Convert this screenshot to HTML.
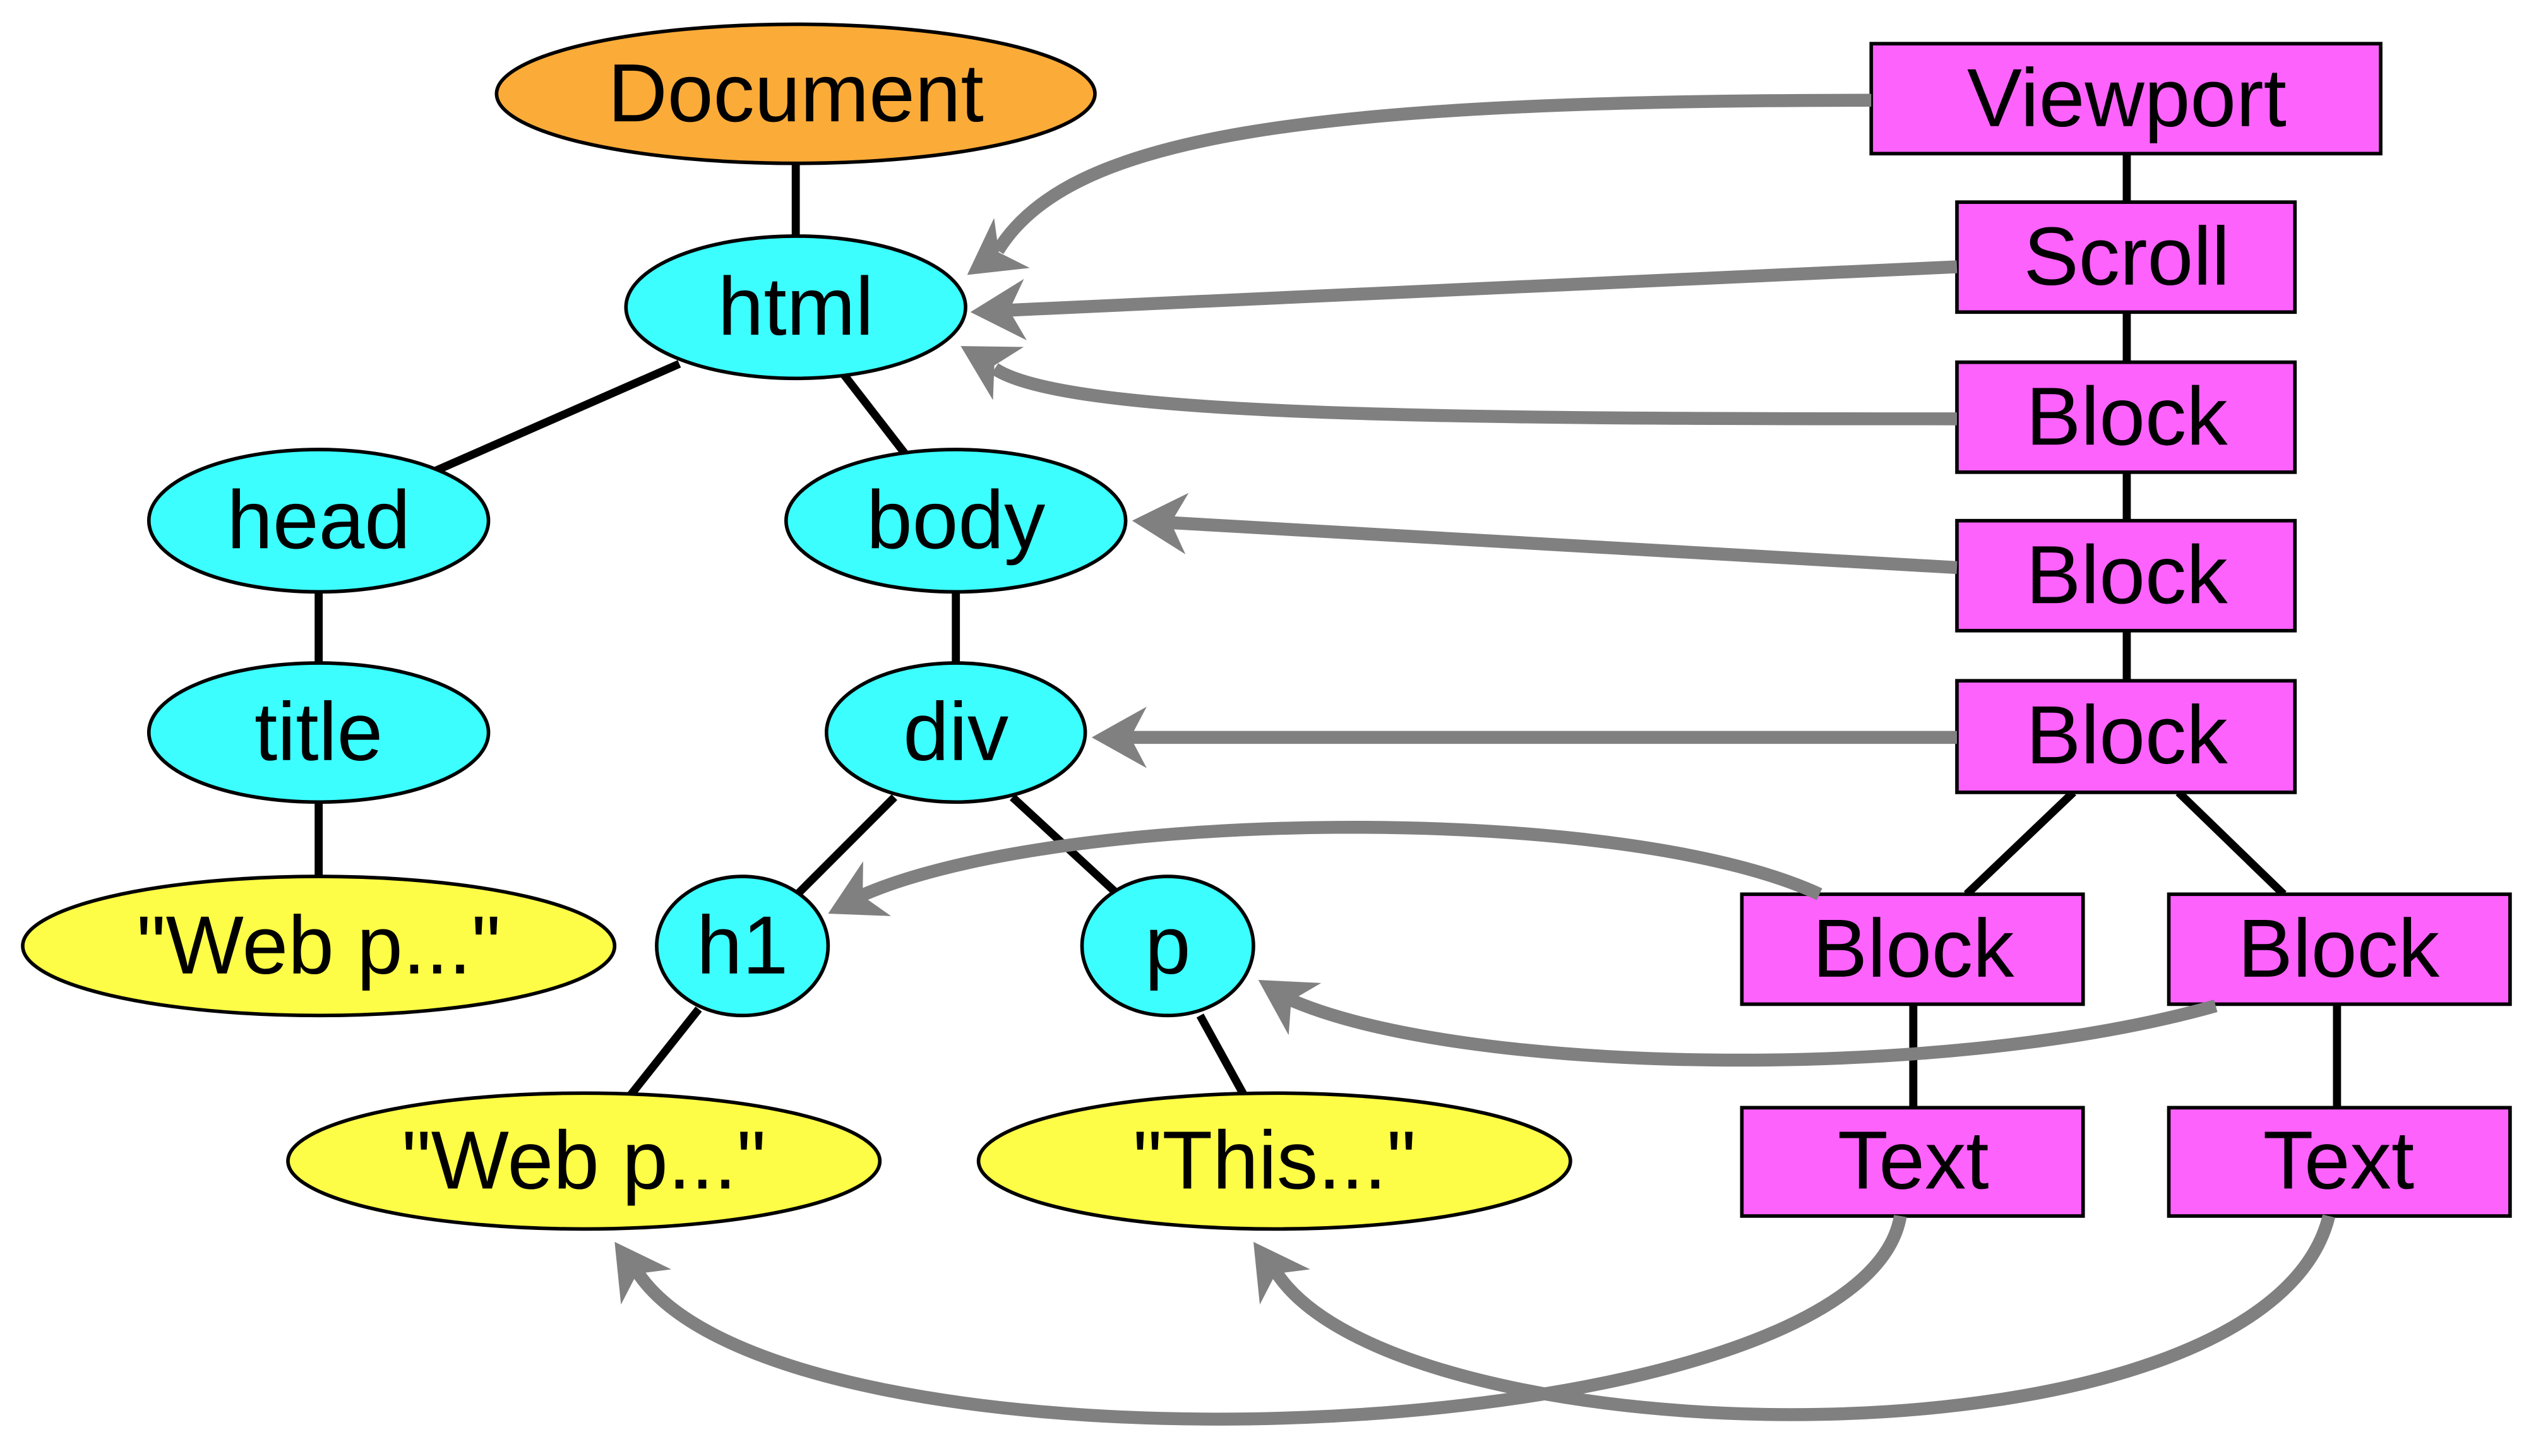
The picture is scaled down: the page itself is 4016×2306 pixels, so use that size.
<!DOCTYPE html>
<html><head><meta charset="utf-8"><style>html,body{margin:0;padding:0;background:#fff}svg{display:block}</style></head>
<body>
<svg width="4016" height="2306" viewBox="0 0 1568 900.4" xmlns="http://www.w3.org/2000/svg" font-family="'Liberation Sans', Arial, sans-serif">
<g stroke="#000" stroke-width="5" fill="none">
<line x1="492" y1="101" x2="492" y2="148"/>
<line x1="420" y1="225" x2="265" y2="293"/>
<line x1="522" y1="232" x2="563" y2="285"/>
<line x1="197" y1="366" x2="197" y2="410"/>
<line x1="591" y1="366" x2="591" y2="410"/>
<line x1="197" y1="496" x2="197" y2="543"/>
<line x1="553" y1="493" x2="492" y2="554"/>
<line x1="626" y1="493" x2="690" y2="552"/>
<line x1="432" y1="624" x2="390" y2="677"/>
<line x1="742" y1="628" x2="769" y2="677"/>
<line x1="1315" y1="95" x2="1315" y2="125"/>
<line x1="1315" y1="193" x2="1315" y2="224"/>
<line x1="1315" y1="292" x2="1315" y2="322"/>
<line x1="1315" y1="390" x2="1315" y2="421"/>
<line x1="1282" y1="490" x2="1216" y2="553"/>
<line x1="1347" y1="490" x2="1412" y2="553"/>
<line x1="1183" y1="621" x2="1183" y2="685"/>
<line x1="1445" y1="621" x2="1445" y2="685"/>
</g>
<g stroke="#000" stroke-width="2.2">
<ellipse cx="492" cy="58" rx="185" ry="43" fill="#fbab38"/>
<g fill="#3dfefe">
<ellipse cx="492" cy="190" rx="105" ry="44"/>
<ellipse cx="197" cy="322" rx="105" ry="44"/>
<ellipse cx="591" cy="322" rx="105" ry="44"/>
<ellipse cx="197" cy="453" rx="105" ry="43"/>
<ellipse cx="591" cy="453" rx="80" ry="43"/>
<ellipse cx="459" cy="585" rx="53" ry="43"/>
<ellipse cx="722" cy="585" rx="53" ry="43"/>
</g>
<g fill="#fdfd47">
<ellipse cx="197" cy="585" rx="183" ry="43"/>
<ellipse cx="361" cy="718" rx="183" ry="42"/>
<ellipse cx="788" cy="718" rx="183" ry="42"/>
</g>
<g fill="#fd62fd">
<rect x="1157" y="27" width="315" height="68"/>
<rect x="1210" y="125" width="209" height="68"/>
<rect x="1210" y="224" width="209" height="68"/>
<rect x="1210" y="322" width="209" height="68"/>
<rect x="1210" y="421" width="209" height="69"/>
<rect x="1077" y="553" width="211" height="68"/>
<rect x="1341" y="553" width="211" height="68"/>
<rect x="1077" y="685" width="211" height="67"/>
<rect x="1341" y="685" width="211" height="67"/>
</g>
</g>
<g stroke="#808080" stroke-width="8" fill="none">
<path d="M1157,62 C800,62 660,85 617,155"/>
<path d="M1210,165 L620,192"/>
<path d="M1210,259 C900,259 660,258 615,228"/>
<path d="M1210,351 L720,323"/>
<path d="M1210,456 L695,456"/>
<path d="M1125,553 C1000,495 650,500 530,555"/>
<path d="M1370,622 C1200,670 900,665 795,617"/>
<path d="M1175,752 C1150,900 480,925 393,785"/>
<path d="M1440,752 C1400,915 860,905 788,785"/>
</g>
<g fill="#808080">
<path transform="translate(598,170) rotate(144.5)" d="M0,0 L-34,-19 L-24,0 L-34,19 Z"/>
<path transform="translate(600,193) rotate(177.4)" d="M0,0 L-34,-19 L-24,0 L-34,19 Z"/>
<path transform="translate(594,214) rotate(210)" d="M0,0 L-34,-19 L-24,0 L-34,19 Z"/>
<path transform="translate(700,322) rotate(183)" d="M0,0 L-34,-19 L-24,0 L-34,19 Z"/>
<path transform="translate(675,456) rotate(180)" d="M0,0 L-34,-19 L-24,0 L-34,19 Z"/>
<path transform="translate(512,565) rotate(153)" d="M0,0 L-34,-19 L-24,0 L-34,19 Z"/>
<path transform="translate(778,606) rotate(212)" d="M0,0 L-34,-19 L-24,0 L-34,19 Z"/>
<path transform="translate(380,768) rotate(235)" d="M0,0 L-34,-19 L-24,0 L-34,19 Z"/>
<path transform="translate(775,768) rotate(235)" d="M0,0 L-34,-19 L-24,0 L-34,19 Z"/>
</g>
<g font-size="51" text-anchor="middle" fill="#000">
<text x="492" y="75">Document</text>
<text x="492" y="207">html</text>
<text x="197" y="339">head</text>
<text x="591" y="339">body</text>
<text x="197" y="470">title</text>
<text x="591" y="470">div</text>
<text x="197" y="602">"Web p..."</text>
<text x="459" y="602">h1</text>
<text x="722" y="602">p</text>
<text x="361" y="735">"Web p..."</text>
<text x="788" y="735">"This..."</text>
<text x="1315" y="78">Viewport</text>
<text x="1315" y="176">Scroll</text>
<text x="1315" y="275">Block</text>
<text x="1315" y="373">Block</text>
<text x="1315" y="472">Block</text>
<text x="1183" y="604">Block</text>
<text x="1446" y="604">Block</text>
<text x="1183" y="735">Text</text>
<text x="1446" y="735">Text</text>
</g>
</svg>
</body></html>
